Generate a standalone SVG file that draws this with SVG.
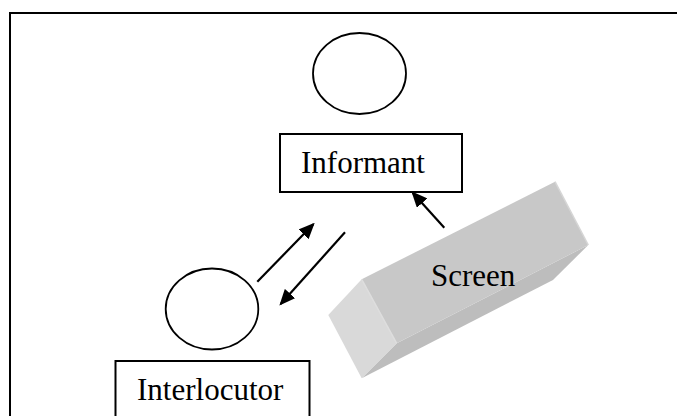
<svg xmlns="http://www.w3.org/2000/svg" width="677" height="416" viewBox="0 0 677 416">
  <style>
    .frame { fill: none; stroke: #000; stroke-width: 2; }
    .head { fill: none; stroke: #000; stroke-width: 1.8; }
    .box { fill: #fff; stroke: #000; stroke-width: 2; }
    .label { font-family: "Liberation Serif", "Times New Roman", serif; font-size: 31px; fill: #000; }
    .conn { stroke: #000; stroke-width: 2.2; fill: none; marker-end: url(#arrow); }
  </style>
  <defs>
    <marker id="arrow" markerUnits="userSpaceOnUse" markerWidth="16" markerHeight="14" refX="14" refY="7" orient="auto">
      <path d="M0,0 L16,7 L0,14 z" fill="#000"/>
    </marker>
  </defs>

  <rect width="677" height="416" fill="#fff"/>
  <!-- outer frame (runs off the right and bottom edges) -->
  <rect class="frame" x="10" y="13" width="700" height="440"/>

  <g id="informant">
    <ellipse class="head" cx="359.5" cy="73.5" rx="46.5" ry="40.5"/>
    <rect class="box" x="280" y="134" width="182" height="58"/>
    <text class="label" x="301" y="173">Informant</text>
  </g>

  <g id="interlocutor">
    <ellipse class="head" cx="212" cy="309" rx="46.3" ry="40.5"/>
    <rect class="box" x="115.5" y="361" width="194" height="80"/>
    <text class="label" x="137" y="400">Interlocutor</text>
  </g>

  <g id="screen">
    <!-- bottom face -->
    <polygon points="396.7,343.3 588.3,245 553,280 361.7,378.3" fill="#bdbdbd"/>
    <!-- end face -->
    <polygon points="328.3,315 361.7,279.3 396.7,343.3 361.7,378.3" fill="#d9d9d9"/>
    <!-- long face -->
    <polygon points="361.7,279.3 555,181.7 588.3,245 396.7,343.3" fill="#c8c8c8"/>
    <line x1="361.7" y1="279.3" x2="396.7" y2="343.3" stroke="#dedede" stroke-width="1.5"/>
    <line x1="555" y1="181.7" x2="588.3" y2="245" stroke="#d6d6d6" stroke-width="1.5"/>
    <text class="label" x="431" y="286">Screen</text>
  </g>

  <g id="connectors">
    <line class="conn" x1="257.3" y1="281.7" x2="313.3" y2="224.3"/>
    <line class="conn" x1="345" y1="232.3" x2="280.7" y2="304"/>
    <line class="conn" x1="444.3" y1="227.7" x2="412.7" y2="192.7"/>
  </g>
</svg>
